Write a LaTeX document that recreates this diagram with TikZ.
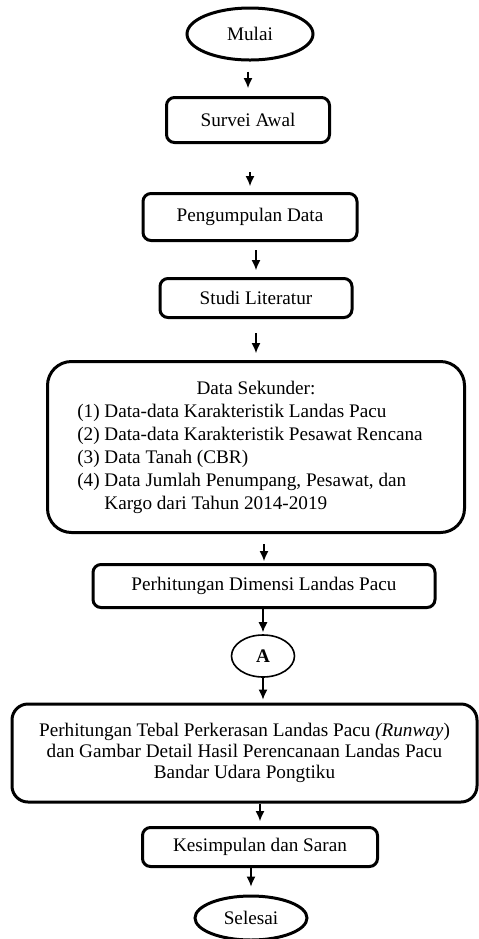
\documentclass[tikz,border=0pt]{standalone}
\usepackage{fontspec}
\setmainfont{Liberation Serif}
\usepackage{tikz}
\usetikzlibrary{shapes.geometric}
\usetikzlibrary{arrows.meta}
\tikzset{
    proses/.style={draw,rounded corners=4pt,line width=1.5pt,align=center,inner sep=0pt},
    terminal/.style={draw,ellipse,line width=1.5pt,inner sep=0pt},
    panah/.style={-{Latex[length=5pt,width=4.5pt]},line width=0.6pt}
}

\begin{document}
\begin{tikzpicture}[x=0.5pt,y=-0.5pt,every node/.style={font=\fontsize{9.6pt}{11.5pt}\selectfont}]
        \useasboundingbox (0,0) rectangle (478,939);
        \node[terminal,minimum width=63pt,minimum height=26pt] (mulai) at (250,34) {Mulai};
        \node[proses,minimum width=81.5pt,minimum height=22.5pt] (survei) at (248,120) {Survei Awal};
        \node[proses,minimum width=107pt,minimum height=23.5pt] (kumpul) at (250,217) {Pengumpulan Data};
        \node[proses,minimum width=96pt,minimum height=19.5pt] (studi) at (256,298) {Studi Literatur};
        \node[proses,rounded corners=12pt,minimum width=208.5pt,minimum height=85.5pt] (sekunder) at (256,447) {%
            \begin{tabular}{@{}l@{ }l@{\hspace{6pt}}}
            \multicolumn{2}{c}{Data Sekunder:}\\
            (1) & Data-data Karakteristik Landas Pacu\\
            (2) & Data-data Karakteristik Pesawat Rencana\\
            (3) & Data Tanah (CBR)\\
            (4) & Data Jumlah Penumpang, Pesawat, dan\\
                & Kargo dari Tahun 2014-2019
            \end{tabular}};
        \node[proses,minimum width=171pt,minimum height=21.5pt] (dimensi) at (264,586) {Perhitungan Dimensi Landas Pacu};
        \node[terminal,line width=0.8pt,minimum width=31.5pt,minimum height=21pt] (A) at (263,656) {\textbf{A}};
        \node[proses,rounded corners=8pt,minimum width=232.5pt,minimum height=49pt,
            font=\fontsize{9.6pt}{10.5pt}\selectfont] (tebal) at (244.5,753)
            {Perhitungan Tebal Perkerasan Landas Pacu \textit{(Runway}\/)\\
             dan Gambar Detail Hasil Perencanaan Landas Pacu\\
             Bandar Udara Pongtiku};
        \node[proses,minimum width=117.5pt,minimum height=19.5pt] (simpul) at (260,847) {Kesimpulan dan Saran};
        \node[terminal,minimum width=56pt,minimum height=22pt] (selesai) at (251,918) {Selesai};

        \draw[panah,shorten <=5pt,shorten >=4pt] (mulai.south -| survei) -- (survei.north);
        \draw[panah,shorten <=14pt,shorten >=3pt] (survei.south -| kumpul) -- (kumpul.north);
        \draw[panah,shorten <=4pt,shorten >=3.5pt] (kumpul.south -| studi) -- (studi.north);
        \draw[panah,shorten <=7pt,shorten >=3.5pt] (studi.south -| sekunder) -- (sekunder.north);
        \draw[panah,shorten <=5pt,shorten >=1pt] (sekunder.south -| dimensi) -- (dimensi.north);
        \draw[panah,shorten >=1pt] (dimensi.south -| A) -- (A.north);
        \draw[panah,shorten >=1.5pt] (A.south) -- (A.south |- tebal.north);
        \draw[panah,shorten >=2.5pt] (tebal.south -| simpul) -- (simpul.north);
        \draw[panah,shorten >=4pt] (simpul.south -| selesai) -- (selesai.north);
    \end{tikzpicture}
\end{document}
